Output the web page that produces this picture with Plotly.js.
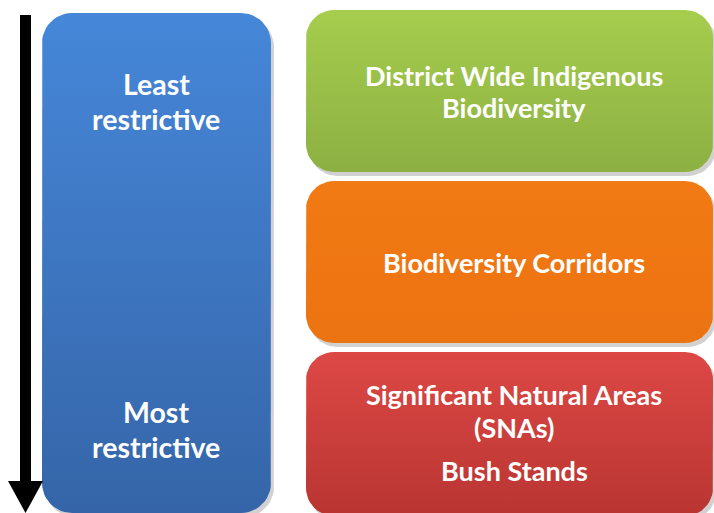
<!DOCTYPE html>
<html>
<head>
<meta charset="utf-8">
<script src="https://cdn.plot.ly/plotly-3.0.1.min.js"></script>
<style>html,body{margin:0;padding:0;background:#fff;}#chart{width:714px;height:513px;}</style>
</head>
<body>
<div id="chart"></div>
<script>
// ---- content ----
const scaleLabels = [["Least", "restrictive"], ["Most", "restrictive"]];
const categories = ["District Wide Indigenous Biodiversity", "Biodiversity Corridors", "Significant Natural Areas (SNAs)"];
const categoryLines = [["District Wide Indigenous", "Biodiversity"], ["Biodiversity Corridors"], ["Significant Natural Areas", "(SNAs)", "Bush Stands"]];
const categoryTop = ["#a5cd4d", "#f27a14", "#dd4845"];
const categoryBottom = ["#8db043", "#ec7311", "#b93532"];

// ---- layout (pixel space) ----
const W = 714, H = 513;
const scaleBox = {x0: 42, x1: 271, y0: 13, y1: 513, r: 30, top: "#4687d9", bottom: "#3565a8"};
const catBoxes = [
  {x0: 306, x1: 713, y0: 10, y1: 172, r: 28},
  {x0: 306, x1: 713, y0: 181, y1: 343, r: 28},
  {x0: 306, x1: 713, y0: 352, y1: 516, r: 28}
];
const scaleTextPos = [{x: 156, y: [84, 119]}, {x: 156, y: [412, 447]}];
const catTextPos = [{x: 514, y: [75, 107]}, {x: 514, y: [262]}, {x: 514, y: [394, 427, 470]}];

function roundRect(b, dx, dy) {
  const xs = [], ys = [];
  const x0 = b.x0 + dx, x1 = b.x1 + dx, y0 = b.y0 + dy, y1 = b.y1 + dy, r = b.r;
  const corners = [
    [x1 - r, y0 + r, -Math.PI / 2, 0],
    [x1 - r, y1 - r, 0, Math.PI / 2],
    [x0 + r, y1 - r, Math.PI / 2, Math.PI],
    [x0 + r, y0 + r, Math.PI, 1.5 * Math.PI]
  ];
  corners.forEach(([cx, cy, a0, a1]) => {
    for (let i = 0; i <= 12; i++) {
      const a = a0 + (a1 - a0) * i / 12;
      xs.push(cx + r * Math.cos(a));
      ys.push(cy + r * Math.sin(a));
    }
  });
  xs.push(xs[0]); ys.push(ys[0]);
  return {xs, ys};
}

const traces = [];
function addBox(b, top, bottom, name) {
  const s = roundRect(b, 3, 4);
  traces.push({x: s.xs, y: s.ys, mode: "lines", line: {width: 0}, fill: "toself",
    fillcolor: "rgba(0,0,0,0.18)", hoverinfo: "skip", showlegend: false});
  const p = roundRect(b, 0, 0);
  traces.push({x: p.xs, y: p.ys, mode: "lines", line: {width: 0}, fill: "toself", name: name,
    fillgradient: {type: "vertical", start: b.y0, stop: b.y1, colorscale: [[0, top], [1, bottom]]},
    hoverinfo: "name", showlegend: false});
}
addBox(scaleBox, scaleBox.top, scaleBox.bottom, "Restrictiveness");
categories.forEach((c, i) => addBox(catBoxes[i], categoryTop[i], categoryBottom[i], c));

// arrow
const arrowShaft = {x0: 20, x1: 31, y0: 15, y1: 483};
const arrowHead = {x0: 8, x1: 43, y0: 481, tip: 513};
traces.push({x: [arrowShaft.x0, arrowShaft.x1, arrowShaft.x1, arrowHead.x1, (arrowHead.x0 + arrowHead.x1) / 2, arrowHead.x0, arrowShaft.x0, arrowShaft.x0],
  y: [arrowShaft.y0, arrowShaft.y0, arrowHead.y0, arrowHead.y0, arrowHead.tip, arrowHead.y0, arrowHead.y0, arrowShaft.y0],
  mode: "lines", line: {width: 0}, fill: "toself", fillcolor: "#000", hoverinfo: "skip", showlegend: false});

const catFont = {family: "Lato, 'Open Sans', sans-serif", size: 27, color: "#ffffff", weight: "bold"};
const scaleFont = {family: "Lato, 'Open Sans', sans-serif", size: 28.5, color: "#ffffff", weight: "bold"};
const annotations = [];
scaleLabels.forEach((lines, i) => lines.forEach((t, j) => annotations.push({
  x: scaleTextPos[i].x, y: scaleTextPos[i].y[j], xref: "x", yref: "y", text: "<b>" + t + "</b>",
  showarrow: false, font: scaleFont, xanchor: "center", yanchor: "middle"})));
categoryLines.forEach((lines, i) => lines.forEach((t, j) => annotations.push({
  x: catTextPos[i].x, y: catTextPos[i].y[j], xref: "x", yref: "y", text: "<b>" + t + "</b>",
  showarrow: false, font: catFont, xanchor: "center", yanchor: "middle"})));

const layout = {
  width: W, height: H, margin: {l: 0, r: 0, t: 0, b: 0},
  paper_bgcolor: "#ffffff", plot_bgcolor: "#ffffff",
  xaxis: {range: [0, W], visible: false, fixedrange: true},
  yaxis: {range: [H, 0], visible: false, fixedrange: true},
  annotations: annotations, showlegend: false
};
Plotly.newPlot("chart", traces, layout, {displayModeBar: false, staticPlot: true});
</script>
</body>
</html>
